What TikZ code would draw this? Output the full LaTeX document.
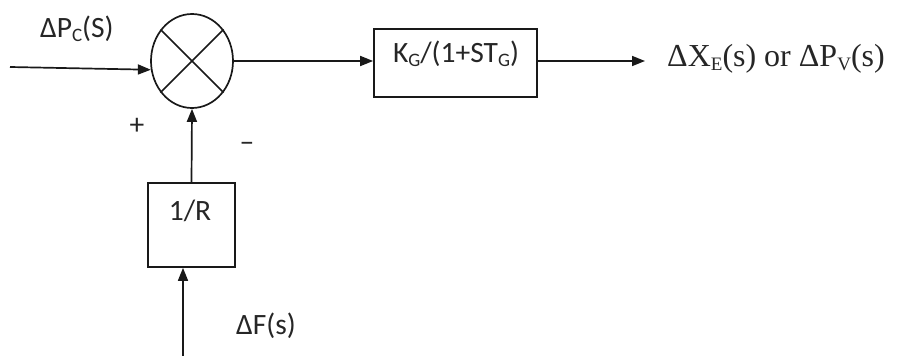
\documentclass[tikz,border=0pt]{standalone}
\usepackage{fontspec}
\setmainfont{Carlito}
\newfontfamily\outserif{Liberation Serif}
\usetikzlibrary{arrows.meta,shapes.geometric}
\tikzset{
  wire/.style={line width=1.7pt, draw=black!90},
  arr/.style={wire, -{Triangle[length=13pt,width=10pt]}},
  blockbox/.style={draw=black!90, line width=1.7pt, rectangle, inner sep=0pt},
  lbl/.style={inner sep=0pt, font=\fontsize{29.5}{32}\selectfont, text=black!85},
  sumjunction/.style={draw=black!90, line width=1.7pt, ellipse, inner sep=0pt,
    minimum width=82pt, minimum height=94pt},
}
\newcommand\lowsub[1]{\raisebox{-0.28ex}{\fontsize{19}{20}\selectfont #1}}
\begin{document}
\begin{tikzpicture}[x=1pt,y=-1pt]
  \useasboundingbox (0,0) rectangle (900,356);

  % summing junction with cross
  \node[sumjunction] (sum) at (192,61) {};
  \draw[wire] (sum.135) -- (sum.-45);
  \draw[wire] (sum.45) -- (sum.-135);

  % governor block
  \node[blockbox, minimum width=163pt, minimum height=68pt] (gov) at (455.5,63) {};
  \node[lbl] (govtxt) at (456,54) {K\lowsub{G}/(1+ST\lowsub{G})};

  % droop block
  \node[blockbox, minimum width=87pt, minimum height=84pt] (droop) at (191.5,225) {};
  \node[lbl] (drooptxt) at (190,211) {1/R};

  % input reference
  \coordinate (ref) at (10,67);
  \draw[arr] (ref) -- (sum.192);
  \node[lbl, anchor=west] (reftxt) at (40,29) {ΔP\lowsub{C}(S)};

  % forward path
  \draw[arr] (sum.east) -- (sum.east -| gov.west);
  \coordinate (out) at (645,61);
  \draw[arr] (sum.east -| gov.east) -- (out);
  \node[inner sep=0pt, anchor=west, text=black!85, font=\outserif\fontsize{32}{34}\selectfont] (outtxt) at (667,59)
    {ΔX\lowsub{E}(s) or ΔP\lowsub{V}(s)};

  % feedback path
  \draw[arr] (droop.north) -- (sum.south);
  \coordinate (freq) at (183,356);
  \draw[arr] (freq) -- (freq |- droop.south);
  \node[lbl, anchor=west] (freqtxt) at (236,326) {ΔF(s)};

  % signs
  \node[lbl] (plus) at (137,126) {+};
  \node[lbl] (minus) at (247,147) {--};
\end{tikzpicture}
\end{document}
